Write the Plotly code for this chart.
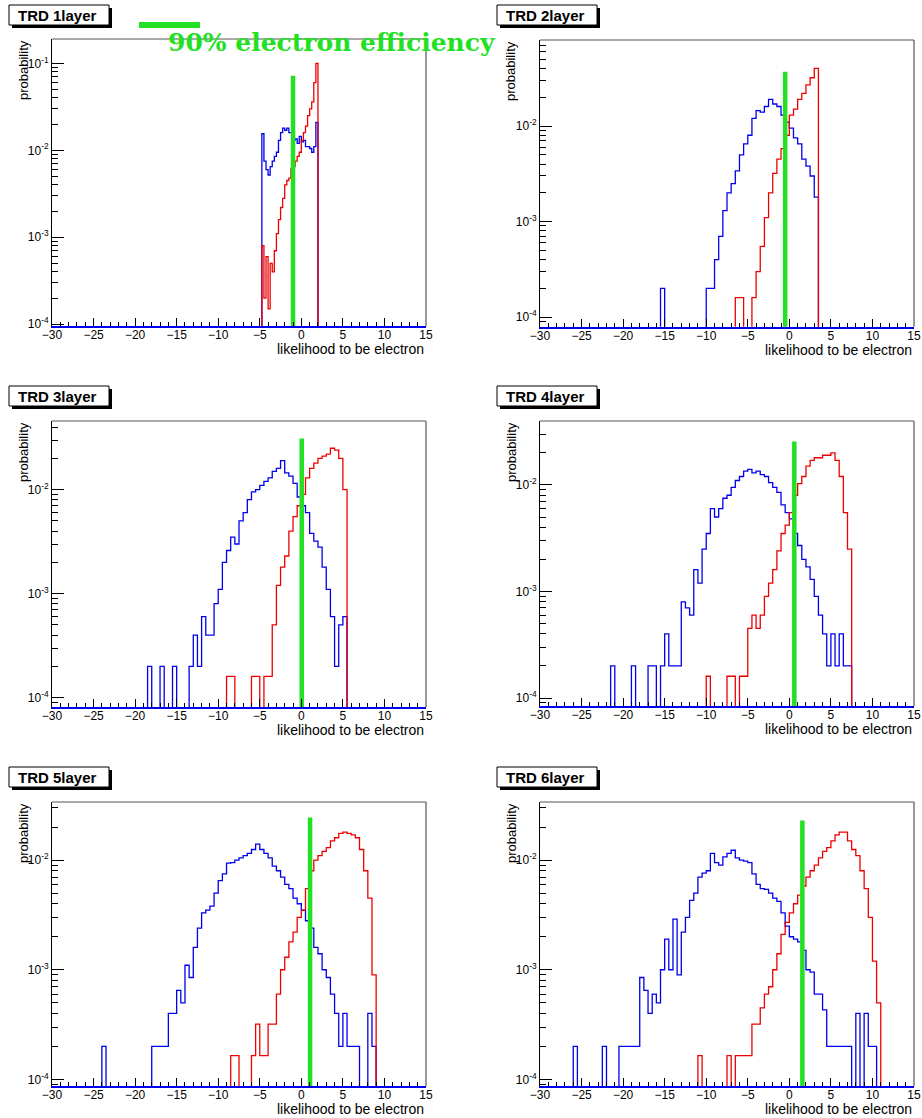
import numpy as np
import plotly.graph_objects as go

W, H = 922, 1118

# ---------------- data ----------------
panel_titles = ["TRD 1layer", "TRD 2layer", "TRD 3layer", "TRD 4layer", "TRD 5layer", "TRD 6layer"]
x_ticks = [-30, -25, -20, -15, -10, -5, 0, 5, 10, 15]
y_ticks = [1e-4, 1e-3, 1e-2, 1e-1]
y_tick_text = ["10<sup>-4</sup>", "10<sup>-3</sup>", "10<sup>-2</sup>", "10<sup>-1</sup>"]

bin_width = [0.25, 0.5, 0.5, 0.5, 0.5, 0.5]

hadron_start = [-4.75, -15.5, -18.5, -21.5, -24.0, -26.0]
electron_start = [-4.75, -6.5, -9.0, -10.0, -8.5, -11.0]

hadron_1layer = [0.0155, 0.0075, 0.006, 0.0052, 0.0065, 0.0075, 0.0085, 0.0095, 0.013, 0.016,
                 0.018, 0.017, 0.018, 0.016, 0.016, 0.013, 0.0135, 0.012, 0.0145, 0.0125,
                 0.013, 0.011, 0.011, 0.0105, 0.0095, 0.011, 0.021]
electron_1layer = [8e-4, 2e-4, 6e-4, 1.5e-4, 5e-4, 4e-4, 7e-4, 1.1e-3, 1.6e-3, 2.2e-3,
                   2.8e-3, 4e-3, 4.5e-3, 4.8e-3, 6.2e-3, 6.5e-3, 7.5e-3, 8.5e-3, 9.5e-3, 0.013,
                   0.016, 0.019, 0.025, 0.03, 0.036, 0.06, 0.1]

hadron_2layer = [2e-4, 0, 0, 0, 0, 0, 0, 0, 0, 0, 0, 2e-4, 2e-4, 4e-4, 7e-4, 1.3e-3, 2e-3, 2.5e-3,
                 3.4e-3, 5e-3, 6.5e-3, 8e-3, 0.012, 0.0145, 0.014, 0.016, 0.019, 0.017, 0.016,
                 0.013, 0.011, 0.0095, 0.0075, 0.0065, 0.0045, 0.0038, 0.003, 0.0018]
electron_2layer = [1.6e-4, 1.6e-4, 0, 0, 1.6e-4, 3e-4, 5.5e-4, 1.1e-3, 2e-3, 3.2e-3, 4.5e-3,
                   5.8e-3, 8e-3, 0.013, 0.015, 0.019, 0.022, 0.027, 0.032, 0.04]

hadron_3layer = [2e-4, 0, 0, 2e-4, 0, 0, 2e-4, 0, 0, 0, 2e-4, 4e-4, 2e-4, 6e-4, 4e-4, 4e-4, 8e-4,
                 1.1e-3, 2e-3, 2.6e-3, 3.5e-3, 3e-3, 5e-3, 6e-3, 8e-3, 9.5e-3, 0.01, 0.011, 0.012,
                 0.013, 0.015, 0.016, 0.019, 0.0145, 0.0135, 0.0115, 0.0085, 0.007, 0.006, 0.0038,
                 0.0032, 0.0028, 0.0018, 0.0011, 6e-4, 2e-4, 5e-4, 6e-4]
electron_3layer = [1.6e-4, 1.6e-4, 0, 0, 0, 0, 1.6e-4, 1.6e-4, 0, 1.6e-4, 1.6e-4, 5e-4, 1.2e-3,
                   1.8e-3, 2.3e-3, 4e-3, 5.5e-3, 7e-3, 9e-3, 0.013, 0.016, 0.018, 0.02, 0.021,
                   0.022, 0.025, 0.024, 0.02, 0.01]

hadron_4layer = [2e-4, 0, 0, 0, 0, 2e-4, 0, 0, 0, 2e-4, 2e-4, 0, 2e-4, 4e-4, 2e-4, 2e-4, 2e-4,
                 8e-4, 7e-4, 6e-4, 1.6e-3, 1.2e-3, 2.5e-3, 3.5e-3, 6e-3, 5e-3, 6e-3, 7.5e-3, 8e-3,
                 9.5e-3, 0.011, 0.012, 0.0135, 0.014, 0.013, 0.0135, 0.0125, 0.012, 0.0105, 0.0095,
                 0.0085, 0.0065, 0.0055, 0.0048, 0.0035, 0.0027, 0.002, 0.0017, 0.0013, 9e-4, 6e-4,
                 4e-4, 2e-4, 4e-4, 2e-4, 4e-4, 2e-4, 2e-4]
electron_4layer = [1.6e-4, 0, 0, 0, 0, 1.6e-4, 1.6e-4, 0, 1.6e-4, 1.6e-4, 4.5e-4, 6e-4, 4.5e-4,
                   6e-4, 9e-4, 1.2e-3, 1.6e-3, 2.4e-3, 3.5e-3, 4.2e-3, 5.5e-3, 8e-3, 0.0103, 0.012,
                   0.015, 0.017, 0.018, 0.018, 0.019, 0.019, 0.02, 0.017, 0.012, 0.0055, 0.0025]

hadron_5layer = [2e-4, 0, 0, 0, 0, 0, 0, 0, 0, 0, 0, 0, 2e-4, 2e-4, 2e-4, 2e-4, 4e-4, 4e-4,
                 6.5e-4, 5e-4, 1.1e-3, 8.5e-4, 1.6e-3, 2.4e-3, 3.3e-3, 3.5e-3, 3.8e-3, 5e-3, 6.5e-3,
                 7.5e-3, 9.4e-3, 0.0095, 0.01, 0.0105, 0.011, 0.0115, 0.0125, 0.014, 0.0125, 0.0115,
                 0.0105, 0.0088, 0.008, 0.007, 0.006, 0.0055, 0.0045, 0.004, 0.0035, 0.0028, 0.0024,
                 0.0016, 0.0014, 0.001, 8.5e-4, 6e-4, 4e-4, 2e-4, 4e-4, 2e-4, 2e-4, 2e-4, 0, 0,
                 4e-4, 2e-4]
electron_5layer = [1.65e-4, 1.65e-4, 0, 0, 0, 1.65e-4, 3.2e-4, 1.65e-4, 1.65e-4, 3.2e-4, 3.2e-4,
                   6e-4, 1e-3, 1.3e-3, 1.8e-3, 2.2e-3, 3e-3, 3.5e-3, 5.5e-3, 8e-3, 0.01, 0.011,
                   0.012, 0.013, 0.015, 0.016, 0.0175, 0.018, 0.0175, 0.017, 0.016, 0.0125, 0.008,
                   0.0045, 9e-4]

hadron_6layer = [2e-4, 0, 0, 0, 0, 0, 0, 2e-4, 0, 0, 0, 2e-4, 2e-4, 2e-4, 2e-4, 2e-4, 8.5e-4,
                 6.5e-4, 4e-4, 6e-4, 5e-4, 1e-3, 1.9e-3, 1e-3, 2.9e-3, 9e-4, 2.2e-3, 3e-3, 4.3e-3,
                 5e-3, 7e-3, 7.6e-3, 8e-3, 0.0115, 0.0095, 0.009, 0.0107, 0.0115, 0.0123, 0.0105,
                 0.01, 0.0098, 0.0095, 0.0075, 0.006, 0.0055, 0.0054, 0.005, 0.0045, 0.0042, 0.0033,
                 0.0025, 0.002, 0.0019, 0.0018, 0.0015, 0.001, 9.5e-4, 6e-4, 6e-4, 4.3e-4, 2e-4,
                 2e-4, 2e-4, 2e-4, 2e-4, 2e-4, 0, 4e-4, 0, 4e-4, 2e-4, 2e-4]
electron_6layer = [1.65e-4, 0, 0, 0, 0, 0, 0, 1.65e-4, 0, 1.65e-4, 1.65e-4, 1.65e-4, 1.65e-4,
                   3.2e-4, 3.2e-4, 4.5e-4, 6e-4, 7e-4, 1e-3, 1.4e-3, 2.1e-3, 2.7e-3, 3.3e-3, 4e-3,
                   4.8e-3, 5.8e-3, 7e-3, 8e-3, 9e-3, 0.0105, 0.012, 0.013, 0.015, 0.017, 0.018,
                   0.018, 0.015, 0.0125, 0.011, 0.008, 0.0055, 0.003, 0.0012, 5e-4]

hadron_sets = [hadron_1layer, hadron_2layer, hadron_3layer, hadron_4layer, hadron_5layer, hadron_6layer]
electron_sets = [electron_1layer, electron_2layer, electron_3layer, electron_4layer, electron_5layer, electron_6layer]

# 90% electron efficiency cut: position and drawn height
cut_x = [-1.0, -0.5, 0.05, 0.6, 1.05, 1.57]
cut_top = [0.072, 0.037, 0.031, 0.0255, 0.0245, 0.023]

# log10 y-range of each pad
y_range_log = [(-4.02, -0.72), (-4.10, -1.10), (-4.09, -1.34), (-4.075, -1.40), (-4.06, -1.47), (-4.06, -1.47)]

# ---------------- layout geometry (pixels) ----------------
frames = [  # x0, x1, ytop, ybottom
    (52, 426, 39, 326), (540, 914, 40, 326.7),
    (52, 426, 421, 707), (540, 914, 421, 706),
    (52, 426, 802, 1086), (540, 914, 802, 1086),
]
title_boxes = [  # x0, ytop
    (9, 5), (497, 5), (9, 386), (497, 386), (9, 767), (497, 767)
]

BLUE = "#0000ee"
RED = "#ee0000"
GREEN = "#22e022"
FONT = "Liberation Sans, Arial, Helvetica, sans-serif"


def px(x):
    return x / W


def py(y):
    return 1 - y / H


def full_hist(start, w, vals):
    edges = np.round(np.arange(-30, 15 + w / 2, w), 6)
    y = np.zeros(len(edges) - 1)
    i0 = int(round((start + 30) / w))
    y[i0:i0 + len(vals)] = vals
    yy = np.append(y, y[-1])
    yy = np.where(yy > 0, yy, 1e-7)
    return edges, yy


fig = go.Figure()
shapes = []
annotations = []
layout = {}

minor_y = [k * 10.0 ** e for e in range(-6, 0) for k in range(2, 10)]

for i in range(6):
    n = i + 1
    xa = "x" if n == 1 else f"x{n}"
    ya = "y" if n == 1 else f"y{n}"
    xkey = "xaxis" if n == 1 else f"xaxis{n}"
    ykey = "yaxis" if n == 1 else f"yaxis{n}"
    x0, x1, yt, yb = frames[i]
    w = bin_width[i]

    ex, ey = full_hist(hadron_start[i], w, hadron_sets[i])
    fig.add_trace(go.Scatter(x=ex, y=ey, mode="lines", line=dict(color=BLUE, width=1.3, shape="hv"),
                             xaxis=xa, yaxis=ya, showlegend=False, hoverinfo="skip"))
    ex, ey = full_hist(electron_start[i], w, electron_sets[i])
    fig.add_trace(go.Scatter(x=ex, y=ey, mode="lines", line=dict(color=RED, width=1.3, shape="hv"),
                             xaxis=xa, yaxis=ya, showlegend=False, hoverinfo="skip"))
    fig.add_trace(go.Scatter(x=[cut_x[i], cut_x[i]], y=[1e-7, cut_top[i]], mode="lines",
                             line=dict(color=GREEN, width=4.5), xaxis=xa, yaxis=ya,
                             showlegend=False, hoverinfo="skip"))

    layout[xkey] = dict(
        domain=[px(x0), px(x1)], anchor=ya, range=[-30, 15], automargin=False,
        tickmode="array", tickvals=x_ticks, ticks="inside", ticklen=8, tickcolor="black",
        tickwidth=1, minor=dict(dtick=1, ticks="inside", ticklen=4, tickcolor="black"),
        showline=True, linecolor=BLUE, linewidth=1.5, showgrid=False, zeroline=False,
        tickfont=dict(family=FONT, size=12, color="black"), ticklabelstandoff=-3,
    )
    layout[ykey] = dict(
        domain=[py(yb), py(yt)], anchor=xa, type="log", range=list(y_range_log[i]), automargin=False,
        tickmode="array", tickvals=y_ticks, ticktext=y_tick_text,
        ticks="inside", ticklen=12, tickcolor="black", tickwidth=1,
        minor=dict(tickmode="array", tickvals=minor_y, ticks="inside", ticklen=6, tickcolor="black"),
        showline=True, linecolor="black", linewidth=1, showgrid=False, zeroline=False,
        tickfont=dict(family=FONT, size=12, color="black"),
    )

    # top and right frame lines
    shapes.append(dict(type="line", xref="paper", yref="paper", x0=px(x0), x1=px(x1), y0=py(yt), y1=py(yt),
                       line=dict(color="#555555", width=1.2)))
    shapes.append(dict(type="line", xref="paper", yref="paper", x0=px(x1), x1=px(x1), y0=py(yt), y1=py(yb),
                       line=dict(color="#555555", width=1.2)))

    # title box with shadow
    bx, by = title_boxes[i]
    bw, bh = 100, 20
    shapes.append(dict(type="rect", xref="paper", yref="paper", x0=px(bx + 3), x1=px(bx + bw + 3),
                       y0=py(by + bh + 3), y1=py(by + 3), fillcolor="black", line=dict(width=0)))
    shapes.append(dict(type="rect", xref="paper", yref="paper", x0=px(bx), x1=px(bx + bw),
                       y0=py(by + bh), y1=py(by), fillcolor="white", line=dict(color="black", width=1)))
    annotations.append(dict(xref="paper", yref="paper", x=px(bx + 7), y=py(by + bh / 2 + 0.5),
                            xanchor="left", yanchor="middle", showarrow=False,
                            text="<b>" + panel_titles[i] + "</b>",
                            font=dict(family=FONT, size=15, color="black")))

    # axis titles
    annotations.append(dict(xref="paper", yref="paper", x=px(x0 - 29), y=py(yt - 1),
                            xanchor="center", yanchor="top", showarrow=False, textangle=-90,
                            text="probability", font=dict(family=FONT, size=13, color="black")))
    annotations.append(dict(xref="paper", yref="paper", x=px(x1), y=py(yb + 23),
                            xanchor="right", yanchor="middle", showarrow=False,
                            text="likelihood to be electron", font=dict(family=FONT, size=14, color="black")))

# legend of the first pad
shapes.append(dict(type="line", xref="paper", yref="paper", x0=px(139), x1=px(200), y0=py(25), y1=py(25),
                   line=dict(color=GREEN, width=6)))
annotations.append(dict(xref="paper", yref="paper", x=px(166), y=py(43), xanchor="left", yanchor="middle",
                        showarrow=False, text="<b>90% electron efficiency</b>",
                        font=dict(family="DejaVu Serif, serif", size=25, color=GREEN)))

fig.update_layout(
    width=W, height=H, autosize=False,
    margin=dict(l=0, r=0, t=0, b=0, autoexpand=False),
    paper_bgcolor="white", plot_bgcolor="white",
    shapes=shapes, annotations=annotations,
    **layout,
)

fig.write_html("out.html")
